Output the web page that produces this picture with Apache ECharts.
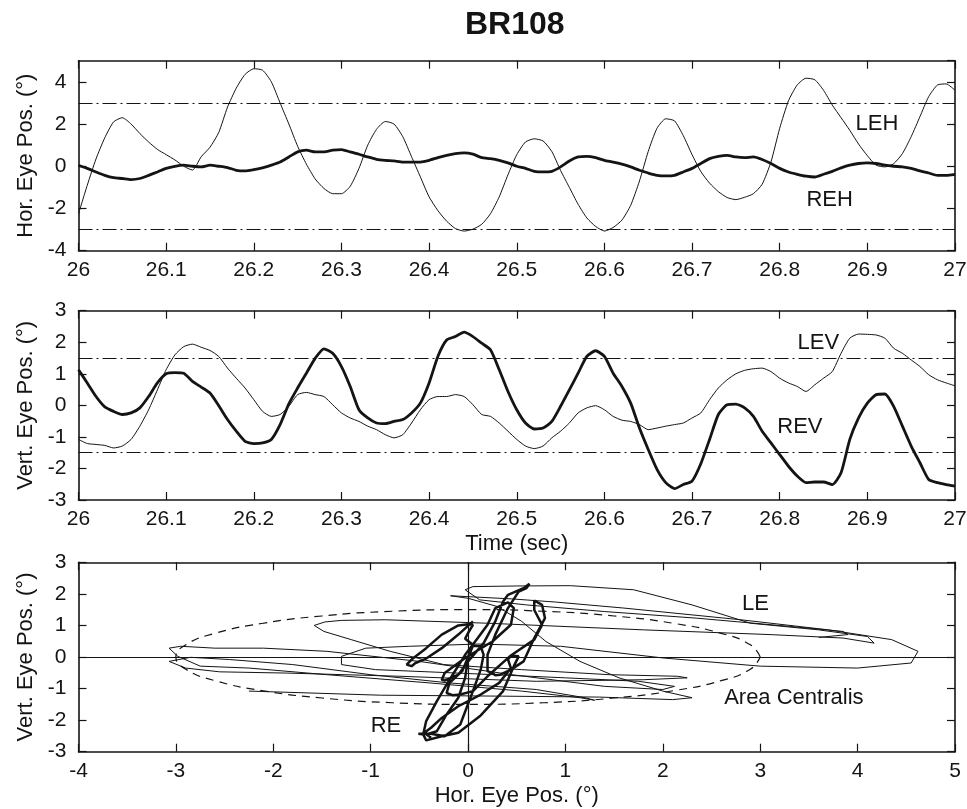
<!DOCTYPE html>
<html>
<head>
<meta charset="utf-8">
<title>BR108</title>
<script src="https://cdn.jsdelivr.net/npm/echarts@6/dist/echarts.min.js"></script>
<style>
html, body { margin: 0; padding: 0; background: #fff; }
#chart { width: 967px; height: 809px; }
</style>
</head>
<body>
<div id="chart"></div>
<script>
// sample grid of the recordings (sec)
const startTime = 26.0
const sampleStep = 0.01

// horizontal eye position, left / right eye (deg), one value per sample
const leh = [
  -2.25, -0.9, 0.35, 1.35, 2.1, 2.3, 2.0, 1.55, 1.15, 0.8,
  0.55, 0.3, 0.0, -0.18, 0.45, 0.9, 1.6, 2.8, 3.7, 4.35,
  4.62, 4.55, 4.0, 3.0, 2.0, 0.95, 0.1, -0.6, -1.05, -1.3,
  -1.3, -0.95, -0.1, 1.0, 1.75, 2.12, 2.0, 1.4, 0.45, -0.5,
  -1.45, -2.1, -2.6, -2.95, -3.07, -2.98, -2.75, -2.25, -1.45, -0.4,
  0.55, 1.15, 1.3, 1.2, 0.7, -0.2, -1.0, -1.8, -2.45, -2.85,
  -3.07, -2.9, -2.55, -1.85, -0.7, 0.7, 1.8, 2.25, 2.15, 1.45,
  0.55, -0.25, -0.8, -1.2, -1.48, -1.58, -1.47, -1.3, -0.85, 0.2,
  1.8, 3.1, 3.85, 4.17, 4.1, 3.6, 2.9, 2.3, 1.7, 1.05,
  0.5, 0.05, -0.03, 0.12, 0.6, 1.4, 2.35, 3.3, 3.85, 3.9,
  3.6
]
const reh = [
  0.05, -0.1, -0.27, -0.43, -0.54, -0.58, -0.63, -0.58, -0.43, -0.27,
  -0.1, 0.0, 0.05, 0.0, -0.03, 0.05, 0.0, -0.06, -0.19, -0.22,
  -0.16, -0.08, 0.05, 0.2, 0.44, 0.68, 0.76, 0.68, 0.68, 0.76,
  0.79, 0.68, 0.57, 0.44, 0.33, 0.28, 0.25, 0.2, 0.2, 0.2,
  0.28, 0.41, 0.52, 0.6, 0.63, 0.57, 0.41, 0.36, 0.28, 0.16,
  0.0, -0.1, -0.24, -0.27, -0.24, -0.03, 0.25, 0.44, 0.47, 0.41,
  0.28, 0.2, 0.1, -0.03, -0.19, -0.32, -0.43, -0.46, -0.43, -0.27,
  -0.1, 0.13, 0.36, 0.47, 0.52, 0.44, 0.41, 0.44, 0.32, 0.13,
  -0.1, -0.27, -0.38, -0.47, -0.51, -0.38, -0.24, -0.08, 0.05, 0.13,
  0.16, 0.13, 0.05, 0.0, -0.03, -0.1, -0.22, -0.32, -0.43, -0.43,
  -0.38
]

// vertical eye position, left / right eye (deg)
const lev = [
  -1.08, -1.21, -1.24, -1.27, -1.35, -1.29, -1.08, -0.66, -0.14, 0.49,
  1.13, 1.6, 1.86, 1.94, 1.84, 1.74, 1.55, 1.18, 0.86, 0.55,
  0.18, -0.19, -0.35, -0.29, -0.03, 0.34, 0.41, 0.34, 0.28, 0.02,
  -0.24, -0.4, -0.51, -0.66, -0.77, -0.93, -1.03, -0.93, -0.56, -0.14,
  0.18, 0.28, 0.28, 0.34, 0.28, 0.02, -0.29, -0.35, -0.56, -0.82,
  -1.08, -1.29, -1.37, -1.29, -1.03, -0.82, -0.56, -0.24, -0.08, -0.01,
  -0.14, -0.35, -0.47, -0.51, -0.61, -0.77, -0.72, -0.66, -0.61, -0.56,
  -0.4, -0.24, 0.18, 0.55, 0.81, 1.0, 1.11, 1.16, 1.18, 1.07,
  0.86, 0.71, 0.6, 0.44, 0.65, 0.86, 1.07, 1.65, 2.13, 2.26,
  2.25, 2.23, 2.13, 1.81, 1.65, 1.44, 1.23, 0.97, 0.81, 0.71,
  0.62
]
const rev = [
  1.13, 0.71, 0.28, -0.05, -0.19, -0.29, -0.24, -0.08, 0.28, 0.71,
  1.0, 1.04, 1.02, 0.76, 0.58, 0.39, -0.01, -0.45, -0.82, -1.14,
  -1.21, -1.19, -1.08, -0.61, 0.05, 0.55, 1.02, 1.49, 1.79, 1.65,
  1.23, 0.6, -0.14, -0.4, -0.56, -0.58, -0.51, -0.45, -0.24, 0.07,
  0.71, 1.55, 2.07, 2.18, 2.32, 2.18, 1.97, 1.76, 1.13, 0.44,
  -0.14, -0.56, -0.75, -0.72, -0.51, -0.03, 0.49, 1.02, 1.55, 1.73,
  1.55, 1.02, 0.6, 0.07, -0.72, -1.4, -2.03, -2.45, -2.64, -2.51,
  -2.4, -1.85, -1.08, -0.29, 0.02, 0.04, -0.08, -0.35, -0.82, -1.19,
  -1.56, -1.93, -2.24, -2.45, -2.43, -2.43, -2.51, -2.14, -1.08, -0.4,
  0.07, 0.34, 0.36, -0.03, -0.66, -1.29, -1.82, -2.35, -2.45, -2.51,
  -2.56
]

// outline of the area centralis (hor, vert deg)
const areaCentralis = [
  [3, 0], [2.898, 0.388], [2.598, 0.75], [2.121, 1.061], [1.5, 1.299], [0.776, 1.449],
  [0, 1.5], [-0.776, 1.449], [-1.5, 1.299], [-2.121, 1.061], [-2.598, 0.75], [-2.898, 0.388],
  [-3, 0], [-2.898, -0.388], [-2.598, -0.75], [-2.121, -1.061], [-1.5, -1.299], [-0.776, -1.449],
  [0, -1.5], [0.776, -1.449], [1.5, -1.299], [2.121, -1.061], [2.598, -0.75], [2.898, -0.388],
  [3, 0]
]

const horLimits = [-3, 3]
const vertLimits = [-1.5, 1.5]

const times = leh.map((v, i) => +(startTime + i * sampleStep).toFixed(2))
const overTime = (vals) => vals.map((v, i) => [times[i], v])
const together = (xs, ys) => xs.map((x, i) => [x, ys[i]])

const FONT = '"Liberation Sans", Arial, Helvetica, sans-serif'
const INK = '#141414'

function xPair(grid, min, max, interval, name) {
  const base = {
    type: 'value', gridIndex: grid, min: min, max: max, interval: interval,
    axisLine: { onZero: false, lineStyle: { color: INK, width: 1.6 } },
    axisTick: { inside: true, length: 8, lineStyle: { color: INK, width: 1.2 } },
    splitLine: { show: false }
  }
  return [
    Object.assign({}, base, {
      position: 'bottom',
      axisLabel: { color: INK, fontSize: 21, fontFamily: FONT, margin: 9 },
      name: name || '', nameLocation: 'middle', nameGap: 33,
      nameTextStyle: { color: INK, fontSize: 22, fontFamily: FONT }
    }),
    Object.assign({}, base, { position: 'top', axisLabel: { show: false }, name: '' })
  ]
}

function yPair(grid, min, max, interval, name, hideMax) {
  const base = {
    type: 'value', gridIndex: grid, min: min, max: max, interval: interval,
    axisLine: { onZero: false, lineStyle: { color: INK, width: 1.6 } },
    axisTick: { inside: true, length: 8, lineStyle: { color: INK, width: 1.2 } },
    splitLine: { show: false }
  }
  return [
    Object.assign({}, base, {
      position: 'left',
      axisLabel: { color: INK, fontSize: 21, fontFamily: FONT, margin: 12, showMaxLabel: !hideMax },
      name: name, nameLocation: 'middle', nameGap: 42,
      nameTextStyle: { color: INK, fontSize: 22, fontFamily: FONT }
    }),
    Object.assign({}, base, { position: 'right', axisLabel: { show: false }, name: '' })
  ]
}

function trace(axis, data, width) {
  return {
    type: 'line', xAxisIndex: axis, yAxisIndex: axis, data: data,
    showSymbol: false, symbol: 'none', smooth: 0.2, silent: true,
    lineStyle: { color: INK, width: width }
  }
}

function refLines(lines, type, width) {
  return {
    silent: true, symbol: ['none', 'none'], label: { show: false },
    lineStyle: { color: INK, type: type, width: width },
    data: lines
  }
}

function tags(axis, list) {
  return {
    type: 'scatter', xAxisIndex: axis, yAxisIndex: axis, silent: true,
    symbolSize: 1, itemStyle: { color: 'transparent', opacity: 1 },
    label: { show: true, position: 'inside', formatter: '{b}', color: INK, opacity: 1, fontSize: 22, fontFamily: FONT },
    data: list.map(t => ({ name: t[0], value: [t[1], t[2]] }))
  }
}

const dashDot = [14, 4, 2, 4]

const lehSeries = trace(0, overTime(leh), 1)
const rehSeries = trace(0, overTime(reh), 2.8)
rehSeries.markLine = refLines([{ yAxis: horLimits[1] }, { yAxis: horLimits[0] }], dashDot, 1)

const levSeries = trace(2, overTime(lev), 1)
const revSeries = trace(2, overTime(rev), 2.8)
revSeries.markLine = refLines([{ yAxis: vertLimits[1] }, { yAxis: vertLimits[0] }], dashDot, 1)

const leSeries = trace(4, together(leh, lev), 1)
leSeries.smooth = false
const reSeries = trace(4, together(reh, rev), 2.5)
reSeries.smooth = false
const acSeries = trace(4, areaCentralis, 1.2)
acSeries.smooth = true
acSeries.lineStyle.type = [8, 6]
acSeries.markLine = refLines([{ yAxis: 0 }, { xAxis: 0 }], 'solid', 1.2)

const chart = echarts.init(document.getElementById('chart'), null, { renderer: 'canvas' })

chart.setOption({
  animation: false,
  backgroundColor: '#ffffff',
  title: {
    text: 'BR108', left: 465, top: 9, padding: 0,
    textStyle: { color: INK, fontSize: 32, fontWeight: 'bold', fontFamily: FONT }
  },
  grid: [
    { left: 78.5, right: 12, top: 60.7, height: 190, outerBoundsMode: 'none' },
    { left: 78.5, right: 12, top: 310.7, height: 189.3, outerBoundsMode: 'none' },
    { left: 78.5, right: 12, top: 562.3, height: 189.4, outerBoundsMode: 'none' }
  ],
  xAxis: [].concat(
    xPair(0, 26, 27, 0.1),
    xPair(1, 26, 27, 0.1, 'Time (sec)'),
    xPair(2, -4, 5, 1, 'Hor. Eye Pos. (°)')
  ),
  yAxis: [].concat(
    yPair(0, -4, 5, 2, 'Hor. Eye Pos. (°)', true),
    yPair(1, -3, 3, 1, 'Vert. Eye Pos. (°)'),
    yPair(2, -3, 3, 1, 'Vert. Eye Pos. (°)')
  ),
  series: [
    lehSeries, rehSeries,
    levSeries, revSeries,
    acSeries, leSeries, reSeries,
    tags(0, [['LEH', 26.911, 2.02], ['REH', 26.857, -1.61]]),
    tags(2, [['LEV', 26.844, 1.99], ['REV', 26.823, -0.68]]),
    tags(4, [['LE', 2.95, 1.67], ['Area Centralis', 3.345, -1.29], ['RE', -0.843, -2.18]])
  ]
})
</script>
</body>
</html>
